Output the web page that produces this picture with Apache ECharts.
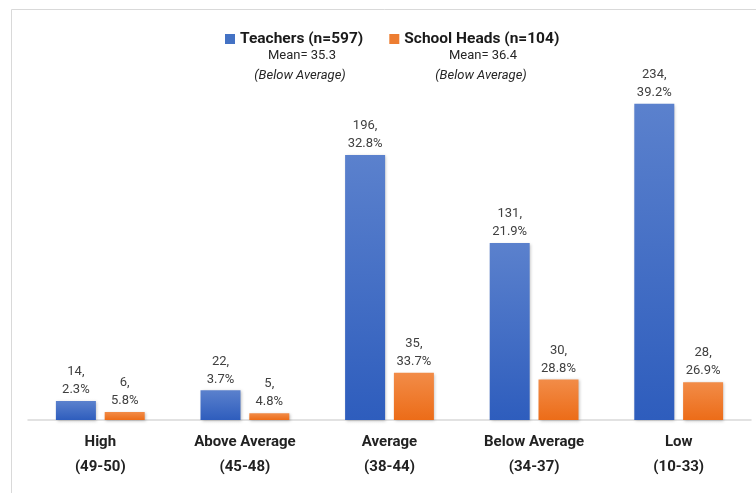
<!DOCTYPE html>
<html><head><meta charset="utf-8">
<script src="https://cdn.jsdelivr.net/npm/echarts@6/dist/echarts.min.js"></script>
<style>html,body{margin:0;padding:0;background:#fff}#c{width:756px;height:493px}</style>
</head><body><div id="c"></div>
<script>
var categories = ['High\n(49-50)', 'Above Average\n(45-48)', 'Average\n(38-44)', 'Below Average\n(34-37)', 'Low\n(10-33)'];
var teachersCount = [14, 22, 196, 131, 234];
var teachersPct = ['2.3%', '3.7%', '32.8%', '21.9%', '39.2%'];
var headsCount = [6, 5, 35, 30, 28];
var headsPct = ['5.8%', '4.8%', '33.7%', '28.8%', '26.9%'];
var seriesNames = ['Teachers (n=597)', 'School Heads (n=104)'];
var meanNotes = [['Mean= 35.3', '(Below Average)'], ['Mean= 36.4', '(Below Average)']];

var FONT = 'Roboto, "Open Sans", sans-serif';
var chart = echarts.init(document.getElementById('c'));
function grad(top, bottom) {
  return new echarts.graphic.LinearGradient(0, 0, 0, 1, [{offset: 0, color: top}, {offset: 1, color: bottom}]);
}
function lbl(pcts) {
  return {
    show: true, position: 'top', distance: 2, color: '#404040', fontSize: 13, lineHeight: 18,
    fontFamily: FONT,
    formatter: function (p) { return p.value + ',\n' + pcts[p.dataIndex]; }
  };
}
chart.setOption({
  animation: false,
  backgroundColor: '#fff',
  grid: {left: 28, right: 5, top: 82, bottom: 73},
  legend: {
    top: 26, left: 220, itemWidth: 10, itemHeight: 10, itemGap: 26,
    icon: 'rect',
    textStyle: {fontSize: 15.5, fontWeight: 'bold', color: '#1a1a1a', fontFamily: FONT},
    data: [{name: seriesNames[0], itemStyle: {color: '#4472c4'}}, {name: seriesNames[1], itemStyle: {color: '#ed7d31'}}]
  },
  xAxis: {
    type: 'category', data: categories,
    axisLine: {lineStyle: {color: '#d9d9d9', width: 1.5}},
    axisTick: {show: false},
    axisLabel: {interval: 0, color: '#222', fontSize: 15, fontWeight: 'bold', lineHeight: 25, margin: 10, fontFamily: FONT}
  },
  yAxis: {type: 'value', min: 0, max: 250, show: false, splitLine: {show: false}},
  series: [
    {name: seriesNames[0], type: 'bar', data: teachersCount, barWidth: 40, barGap: '22%',
     itemStyle: {color: grad('#5b81cd', '#2e5dbd'), shadowColor: 'rgba(0,0,0,0.25)', shadowBlur: 3, shadowOffsetX: 1, shadowOffsetY: 1},
     label: lbl(teachersPct)},
    {name: seriesNames[1], type: 'bar', data: headsCount, barWidth: 40,
     itemStyle: {color: grad('#f28c48', '#ec6c18'), shadowColor: 'rgba(0,0,0,0.25)', shadowBlur: 3, shadowOffsetX: 1, shadowOffsetY: 1},
     label: lbl(headsPct)}
  ],
  graphic: [
    {type: 'rect', left: 9, top: 7, shape: {width: 760, height: 500}, style: {fill: 'none', stroke: '#d9d9d9', lineWidth: 1}, silent: true},
    {type: 'text', x: 302, y: 56, style: {text: meanNotes[0][0], fill: '#262626', font: '13px ' + FONT, textAlign: 'center', textVerticalAlign: 'middle'}},
    {type: 'text', x: 300, y: 76, style: {text: meanNotes[0][1], fill: '#262626', font: 'italic 13px ' + FONT, textAlign: 'center', textVerticalAlign: 'middle'}},
    {type: 'text', x: 483, y: 56, style: {text: meanNotes[1][0], fill: '#262626', font: '13px ' + FONT, textAlign: 'center', textVerticalAlign: 'middle'}},
    {type: 'text', x: 481, y: 76, style: {text: meanNotes[1][1], fill: '#262626', font: 'italic 13px ' + FONT, textAlign: 'center', textVerticalAlign: 'middle'}}
  ]
});
</script></body></html>
